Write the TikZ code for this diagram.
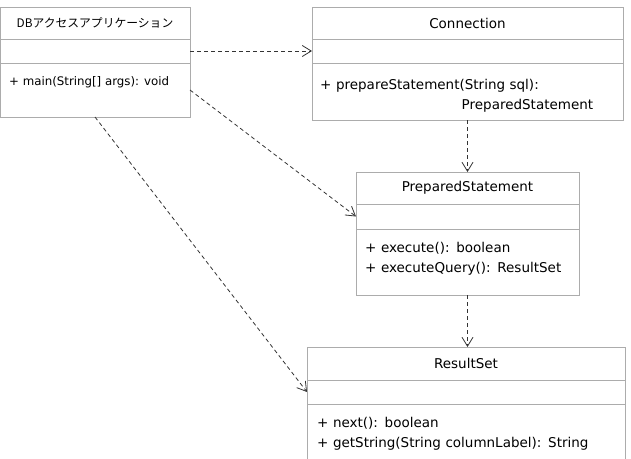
\documentclass[tikz,border=0pt]{standalone}
\usepackage{fontspec}
\setmainfont{DejaVu Sans}
\newfontfamily\cjk{Noto Sans CJK JP}
\usetikzlibrary{positioning,arrows.meta}

\begin{document}
\begin{tikzpicture}[x=1pt, y=-1pt,
  box/.style = {shape=rectangle, draw=gray!65, line width=0.8pt,
    outer sep=0pt, inner sep=0pt},
  big/.style = {font=\fontsize{13.5}{20.5}\selectfont},
  small/.style = {font=\fontsize{11.8}{16}\selectfont},
  optext/.style = {inner sep=0pt, align=left, anchor=base west},
  dep/.style = {draw=black!80, line width=0.8pt, dash pattern=on 4pt off 3pt,
    -{Straight Barb[length=9pt,width=11pt]}}]
  \useasboundingbox (0,0) rectangle (631,458);

  \node[box, small, minimum width=190pt, minimum height=32pt, anchor=north west]
    (app) at (0,7) {\cjk DBアクセスアプリケーション};
  \node[box, minimum width=190pt, minimum height=24pt, below=0pt of app] (appAttr) {};
  \node[box, minimum width=190pt, minimum height=54pt, below=0pt of appAttr] (appOps) {};
  \node[optext, small] (appOp) at ([xshift=9pt,yshift=-22pt]appOps.north west)
    {+ main(String[] args): void};

  \node[box, big, minimum width=311pt, minimum height=32pt, anchor=north west]
    (conn) at (312,7) {Connection};
  \node[box, minimum width=311pt, minimum height=24pt, below=0pt of conn] (connAttr) {};
  \node[box, minimum width=311pt, minimum height=57pt, below=0pt of connAttr] (connOps) {};
  \node[optext, big, text width=273pt] (connOp) at ([xshift=8pt,yshift=-26pt]connOps.north west)
    {+ prepareStatement(String sql):\\\hbox to\linewidth{\hfill PreparedStatement}};

  \node[box, big, minimum width=223pt, minimum height=32pt, anchor=north west]
    (stmt) at (356,172) {PreparedStatement};
  \node[box, minimum width=223pt, minimum height=25pt, below=0pt of stmt] (stmtAttr) {};
  \node[box, minimum width=223pt, minimum height=66pt, below=0pt of stmtAttr] (stmtOps) {};
  \node[optext, big, text width=205pt] (stmtOp) at ([xshift=9pt,yshift=-23pt]stmtOps.north west)
    {+ execute(): boolean\\+ executeQuery(): ResultSet};

  \node[box, big, minimum width=318pt, minimum height=33pt, anchor=north west]
    (rs) at (307,347) {ResultSet};
  \node[box, minimum width=318pt, minimum height=24pt, below=0pt of rs] (rsAttr) {};
  \node[box, minimum width=318pt, minimum height=70pt, below=0pt of rsAttr] (rsOps) {};
  \node[optext, big, text width=300pt] (rsOp) at ([xshift=10pt,yshift=-23pt]rsOps.north west)
    {+ next(): boolean\\+ getString(String columnLabel): String};

  \draw[dep] (appAttr.east) -- (connAttr.west);
  \draw[dep] (appOps.east) -- (stmtAttr.west);
  \draw[dep] (appOps.south) -- (rsAttr.west);
  \draw[dep] (connOps.south) -- (stmt.north);
  \draw[dep] (stmtOps.south) -- (stmtOps.south |- rs.north);
\end{tikzpicture}
\end{document}
